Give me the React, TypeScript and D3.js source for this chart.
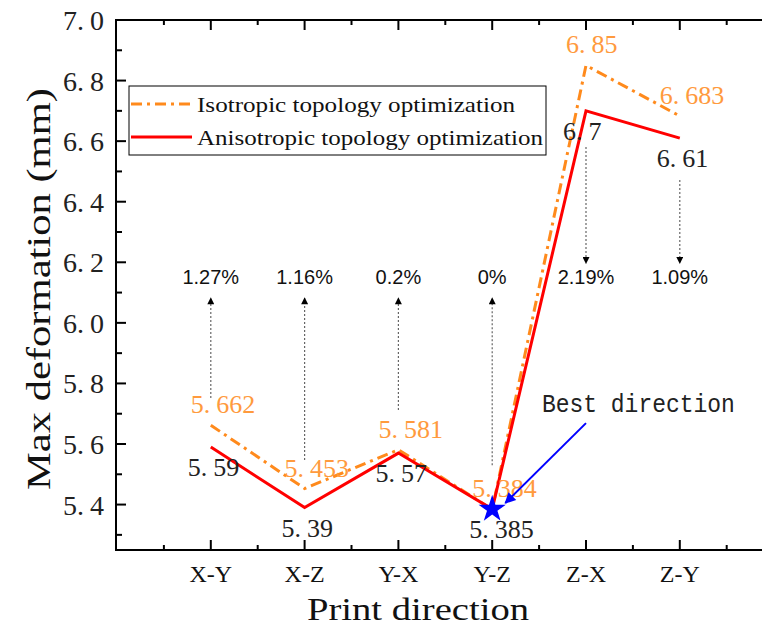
import React from "react";
import * as d3 from "d3";

// print directions on the x axis (index 1..6)
const directions = ["X-Y", "X-Z", "Y-X", "Y-Z", "Z-X", "Z-Y"];
const isoValues = [5.662, 5.453, 5.581, 5.384, 6.85, 6.683];
const anisoValues = [5.59, 5.39, 5.57, 5.385, 6.7, 6.61];
const percents = ["1.27%", "1.16%", "0.2%", "0%", "2.19%", "1.09%"];
// arrow ends (in mm) from label to percentage text
const arrowFrom = [5.752, 5.547, 5.712, 5.53, 6.581, 6.472];
const arrowTo = [6.082, 6.082, 6.082, 6.082, 6.197, 6.197];
const yTicks = [5.4, 5.6, 5.8, 6.0, 6.2, 6.4, 6.6, 6.8, 7.0];
const yMinor = [5.3, 5.5, 5.7, 5.9, 6.1, 6.3, 6.5, 6.7, 6.9];
const bestIndex = 3;

const width = 762;
const height = 627;
const left = 116;
const top = 20;
const bottom = 550;

const x = d3.scaleLinear().domain([0, 7]).range([117, 117 + 7 * 93.8]);
const y = d3.scaleLinear().domain([5.25, 7.0]).range([bottom, top]);

const orange = "#FF8A1C";
const orangeText = "#FF9A3D";
const dark = "#222";
const serif = "'Liberation Serif', 'DejaVu Serif', serif";

// value like 5.662 drawn with the wide dot of the original font
const Num = ({ v, ...rest }: any) => {
  const [a, b] = String(v).split(".");
  return (
    <text {...rest}>
      {a}.<tspan dx={6}>{b}</tspan>
    </text>
  );
};

export default function App() {
  const idx = directions.map((d, i) => i + 1);
  const line = d3
    .line<number>()
    .x((d, i) => x(i + 1))
    .y((d) => y(d));
  const star = d3.symbol().type(d3.symbolStar).size(230)();

  return (
    <svg
      width={width}
      height={height}
      style={{ position: "absolute", left: 0, top: 0, background: "#fff" }}
    >
      <defs>
        <marker
          id="blk"
          markerUnits="userSpaceOnUse"
          viewBox="0 0 10 10"
          refX="9"
          refY="5"
          markerWidth="9"
          markerHeight="7"
          orient="auto"
        >
          <path d="M0,0 L10,5 L0,10 z" fill="#000" />
        </marker>
        <marker
          id="blue"
          markerUnits="userSpaceOnUse"
          viewBox="0 0 10 10"
          refX="9"
          refY="5"
          markerWidth="14"
          markerHeight="11"
          orient="auto"
        >
          <path d="M0,0 L10,5 L0,10 z" fill="#0000FF" />
        </marker>
      </defs>

      {/* frame */}
      <g stroke="#000" strokeWidth={2} fill="none">
        <line x1={left} x2={width} y1={top} y2={top} />
        <line x1={left} x2={width} y1={bottom} y2={bottom} />
        <line x1={left} x2={left} y1={top - 1} y2={bottom + 1} />
      </g>

      {/* y ticks */}
      {yTicks.map((t) => (
        <g key={t}>
          <line x1={left} x2={left + 10} y1={y(t)} y2={y(t)} stroke="#000" strokeWidth={2} />
          <Num
            v={t.toFixed(1)}
            x={104}
            y={y(t) + 10}
            textAnchor="end"
            fontFamily={serif}
            fontSize={28}
            fill={dark}
          />
        </g>
      ))}
      {yMinor.map((t) => (
        <line key={t} x1={left} x2={left + 6} y1={y(t)} y2={y(t)} stroke="#000" strokeWidth={2} />
      ))}

      {/* x ticks, top and bottom */}
      {d3.range(1, 8).map((i) => (
        <g key={i} stroke="#000" strokeWidth={2}>
          <line x1={x(i)} x2={x(i)} y1={bottom} y2={bottom - 10} />
          <line x1={x(i)} x2={x(i)} y1={top} y2={top + 10} />
          <line x1={x(i - 0.5)} x2={x(i - 0.5)} y1={bottom} y2={bottom - 5} />
          <line x1={x(i - 0.5)} x2={x(i - 0.5)} y1={top} y2={top + 5} />
        </g>
      ))}
      {directions.map((d, i) => (
        <text
          key={d}
          x={x(i + 1)}
          y={582}
          textAnchor="middle"
          fontFamily={serif}
          fontSize={24}
          fill="#111"
        >
          {d}
        </text>
      ))}

      {/* axis titles */}
      <text
        x={418}
        y={620}
        textAnchor="middle"
        fontFamily={serif}
        fontSize={32}
        textLength={222}
        lengthAdjust="spacingAndGlyphs"
        fill="#111"
      >
        Print direction
      </text>
      <text
        transform={`translate(50, 289) rotate(-90)`}
        textAnchor="middle"
        fontFamily={serif}
        fontSize={33}
        textLength={402}
        lengthAdjust="spacingAndGlyphs"
        fill="#111"
      >
        Max deformation (mm)
      </text>

      {/* change arrows */}
      {idx.map((k, i) => (
        <line
          key={k}
          x1={x(k)}
          x2={x(k)}
          y1={y(arrowFrom[i])}
          y2={y(arrowTo[i])}
          stroke="#666"
          strokeWidth={1.2}
          strokeDasharray="2 2"
          markerEnd="url(#blk)"
        />
      ))}
      {percents.map((p, i) => (
        <text
          key={i}
          x={x(i + 1)}
          y={y(6.128)}
          textAnchor="middle"
          fontFamily="'Liberation Sans', Arial, sans-serif"
          fontSize={20}
          fill="#111"
        >
          {p}
        </text>
      ))}

      {/* series */}
      <path d={line(isoValues) || ""} fill="none" stroke={orange} strokeWidth={3} strokeDasharray="11 5 3 5" />
      <path d={line(anisoValues) || ""} fill="none" stroke="#FF0000" strokeWidth={3} />

      {isoValues.map((v, i) => (
        <Num
          key={i}
          v={v}
          x={x(i + 1) - 20}
          y={y(v) - 12}
          fontFamily={serif}
          fontSize={26}
          fill={orangeText}
        />
      ))}
      {anisoValues.map((v, i) => (
        <Num
          key={i}
          v={v}
          x={x(i + 1) - 23}
          y={y(v) + 29}
          fontFamily={serif}
          fontSize={26}
          fill={dark}
        />
      ))}

      {/* best direction */}
      <path
        d={star || ""}
        transform={`translate(${x(bestIndex + 1)}, ${y(anisoValues[bestIndex])})`}
        fill="#0000FF"
      />
      <line
        x1={x(5.0)}
        y1={y(5.669)}
        x2={x(4.14)}
        y2={y(5.405)}
        stroke="#0000FF"
        strokeWidth={2}
        markerEnd="url(#blue)"
      />
      <text
        x={x(4.53)}
        y={y(5.705)}
        fontFamily="'Liberation Mono', monospace"
        fontSize={25}
        textLength={193}
        lengthAdjust="spacingAndGlyphs"
        fill={dark}
      >
        Best direction
      </text>

      {/* legend */}
      <rect x={129} y={86} width={417} height={69} fill="#fff" stroke="#000" strokeWidth={1} />
      <line x1={131} x2={190} y1={104} y2={104} stroke={orange} strokeWidth={3} strokeDasharray="11 5 3 5" />
      <line x1={131} x2={192} y1={137} y2={137} stroke="#FF0000" strokeWidth={3} />
      <text x={197} y={112} fontFamily={serif} fontSize={22} textLength={318} lengthAdjust="spacingAndGlyphs" fill="#111">
        Isotropic topology optimization
      </text>
      <text x={197} y={145} fontFamily={serif} fontSize={22} textLength={346} lengthAdjust="spacingAndGlyphs" fill="#111">
        Anisotropic topology optimization
      </text>
    </svg>
  );
}
